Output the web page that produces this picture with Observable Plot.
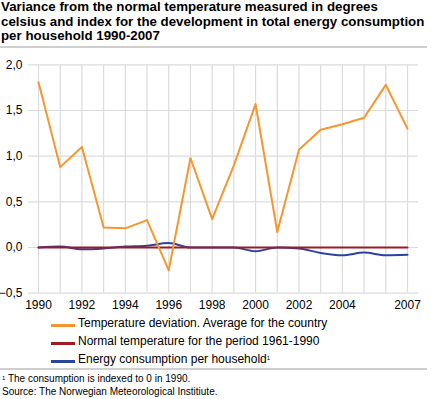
<!DOCTYPE html>
<html>
<head>
<meta charset="utf-8">
<script src="https://cdn.jsdelivr.net/npm/d3@7"></script>
<script src="https://cdn.jsdelivr.net/npm/@observablehq/plot@0.6"></script>
<style>
  body { margin: 0; width: 435px; height: 399px; position: relative; overflow: hidden; background: #fff; font-family: "Liberation Sans", Arial, sans-serif; color: #000; }
  #title { position: absolute; left: 1px; top: 0px; width: 434px; font-weight: bold; font-size: 13.3px; line-height: 14.5px; white-space: nowrap; }
  .sep { position: absolute; left: 0; width: 427px; height: 2px; background: #cfcfcf; }
  #chart { position: absolute; left: 0; top: 48px; }
  .leg { position: absolute; left: 51px; font-size: 12px; line-height: 14px; white-space: nowrap; }
  .sw { display: inline-block; width: 24px; height: 3px; vertical-align: middle; margin-right: 3px; position: relative; top: 2px; }
  .foot { position: absolute; left: 2px; font-size: 10px; line-height: 12px; white-space: nowrap; }
  sup { font-size: 6px; vertical-align: top; position: relative; top: -1px; }
</style>
</head>
<body>
<div id="title">Variance from the normal temperature measured in degrees<br>celsius and index for the development in total energy consumption<br>per household 1990-2007</div>
<div class="sep" style="top:46px"></div>
<div id="chart"></div>
<div class="leg" style="top:316px"><span class="sw" style="background:#f7962f"></span>Temperature deviation. Average for the country</div>
<div class="leg" style="top:334px"><span class="sw" style="background:#9e1b24"></span>Normal temperature for the period 1961-1990</div>
<div class="leg" style="top:352px"><span class="sw" style="background:#2b43a0"></span>Energy consumption per household<sup>1</sup></div>
<div class="sep" style="top:368px"></div>
<div class="foot" style="top:373px"><sup>1</sup> The consumption is indexed to 0 in 1990.</div>
<div class="foot" style="top:386px">Source: The Norwegian Meteorological Institiute.</div>
<script>
const years = [1990,1991,1992,1993,1994,1995,1996,1997,1998,1999,2000,2001,2002,2003,2004,2005,2006,2007];
const tempDeviation = [1.81,0.88,1.10,0.22,0.21,0.30,-0.25,0.98,0.31,0.90,1.57,0.17,1.07,1.29,1.35,1.42,1.78,1.30];
const normalTemp = [0,0,0,0,0,0,0,0,0,0,0,0,0,0,0,0,0,0];
const energy = [0,0.01,-0.02,-0.01,0.01,0.02,0.05,0,0,0,-0.04,0,-0.01,-0.06,-0.085,-0.055,-0.085,-0.08];
const yTicks = [-0.5,0,0.5,1,1.5,2];
const xTicks = [1990,1992,1994,1996,1998,2000,2002,2004,2007];

const rows = (vals) => years.map((y, i) => ({year: y, value: vals[i]}));
const tData = rows(tempDeviation), nData = rows(normalTemp), eData = rows(energy);

const chart = Plot.plot({
  width: 435,
  height: 270,
  marginTop: 16.3,
  marginBottom: 25.3,
  marginLeft: 28,
  marginRight: 17,
  style: {fontFamily: '"Liberation Sans", Arial, sans-serif', fontSize: "12px", color: "#000", background: "transparent"},
  x: {domain: [1990, 2007], insetLeft: 10, insetRight: 11},
  y: {domain: [-0.5, 2]},
  marks: [
    Plot.ruleY(yTicks, {stroke: "#dcdcdc", strokeWidth: 1.2}),
    Plot.ruleX(years, {stroke: "#dcdcdc", strokeWidth: 1.2}),
    Plot.axisY(yTicks, {tickSize: 0, tickPadding: 6, tickFormat: d => d3.format(".1f")(d).replace(".", ","), label: null, fill: "#000", fontSize: 12}),
    Plot.axisX(xTicks, {tickSize: 0, tickPadding: 7, tickFormat: d => String(d), label: null, fill: "#000", fontSize: 12}),
    Plot.line(eData, {x: "year", y: "value", stroke: "#2b43a0", strokeWidth: 2, curve: "monotone-x"}),
    Plot.line(nData, {x: "year", y: "value", stroke: "#9e1b24", strokeWidth: 2}),
    Plot.line(tData, {x: "year", y: "value", stroke: "#f7962f", strokeWidth: 2})
  ]
});
document.getElementById("chart").appendChild(chart);
</script>
</body>
</html>
